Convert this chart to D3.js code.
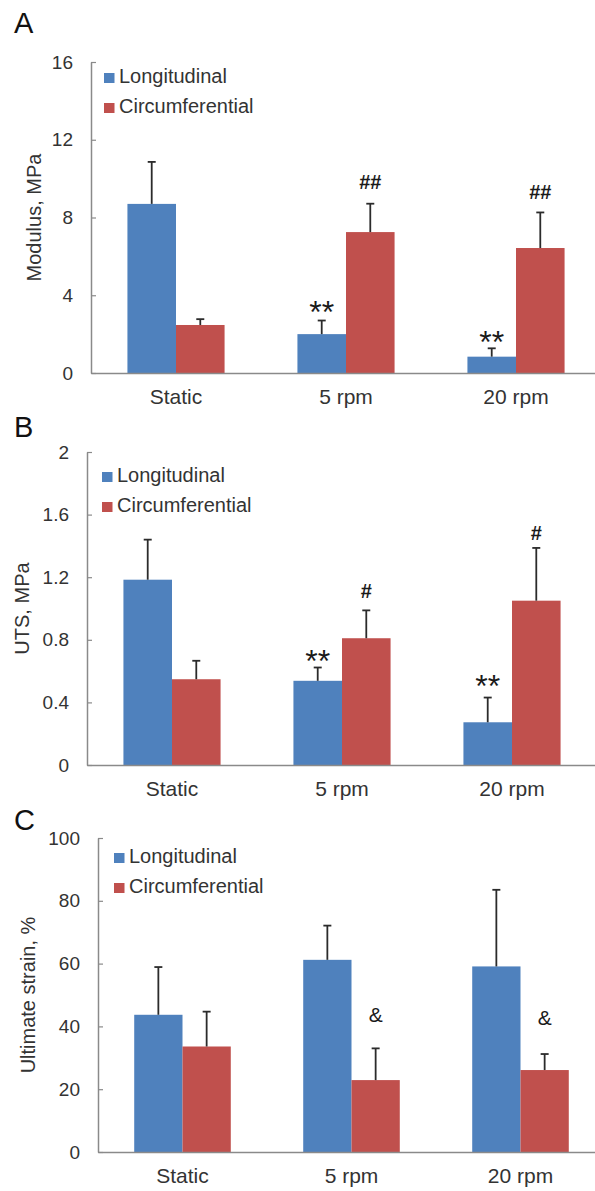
<!DOCTYPE html>
<html>
<head>
<meta charset="utf-8">
<script src="https://cdn.jsdelivr.net/npm/d3@7/dist/d3.min.js"></script>
<style>
  html, body { margin: 0; padding: 0; background: #fff; }
  svg { display: block; font-family: "Liberation Sans", Arial, sans-serif; }
</style>
</head>
<body>
<svg id="chart" width="595" height="1191"></svg>
<script>
// ---------------- DATA ----------------
const categories = ["Static", "5 rpm", "20 rpm"];
const seriesNames = ["Longitudinal", "Circumferential"];

// Panel A: Modulus, MPa
const modulusLong    = [8.7, 2.0, 0.84];
const modulusLongErr = [2.16, 0.70, 0.43];
const modulusCirc    = [2.47, 7.25, 6.43];
const modulusCircErr = [0.30, 1.46, 1.83];
const modulusTicks   = [0, 4, 8, 12, 16];
const modulusMarks   = [
  { cat: "5 rpm",  series: 0, text: "**", at: 3.5 },
  { cat: "5 rpm",  series: 1, text: "##", at: 9.85 },
  { cat: "20 rpm", series: 0, text: "**", at: 1.96 },
  { cat: "20 rpm", series: 1, text: "##", at: 9.33 }
];

// Panel B: UTS, MPa
const utsLong    = [1.184, 0.538, 0.273];
const utsLongErr = [0.256, 0.085, 0.158];
const utsCirc    = [0.548, 0.81, 1.05];
const utsCircErr = [0.118, 0.178, 0.337];
const utsTicks   = [0, 0.4, 0.8, 1.2, 1.6, 2];
const utsMarks   = [
  { cat: "5 rpm",  series: 0, text: "**", at: 0.71 },
  { cat: "5 rpm",  series: 1, text: "#",  at: 1.114 },
  { cat: "20 rpm", series: 0, text: "**", at: 0.55 },
  { cat: "20 rpm", series: 1, text: "#",  at: 1.485 }
];

// Panel C: Ultimate strain, %
const strainLong    = [43.7, 61.2, 59.1];
const strainLongErr = [15.2, 10.9, 24.4];
const strainCirc    = [33.6, 22.9, 26.1];
const strainCircErr = [11.1, 10.1, 5.1];
const strainTicks   = [0, 20, 40, 60, 80, 100];
const strainMarks   = [
  { cat: "5 rpm",  series: 1, text: "&", at: 43.7 },
  { cat: "20 rpm", series: 1, text: "&", at: 42.7 }
];

// ---------------- LAYOUT ----------------
const colors = ["#4F81BD", "#C0504D"];
const svg = d3.select("#chart");

const panels = [
  { letter: "A", lx: 14, ly: 33, title: "Modulus, MPa", tx: 34, ticks: modulusTicks,
    x0: 91, bw: 170, yTop: 62, yBot: 373,
    long: modulusLong, longErr: modulusLongErr, circ: modulusCirc, circErr: modulusCircErr,
    marks: modulusMarks, legX: 104, legY: 73 },
  { letter: "B", lx: 14, ly: 437, title: "UTS, MPa", tx: 22, ticks: utsTicks,
    x0: 87, bw: 170, yTop: 452, yBot: 765,
    long: utsLong, longErr: utsLongErr, circ: utsCirc, circErr: utsCircErr,
    marks: utsMarks, legX: 102, legY: 472 },
  { letter: "C", lx: 14, ly: 830, title: "Ultimate strain, %", tx: 28, ticks: strainTicks,
    x0: 98, bw: 169, yTop: 838, yBot: 1152,
    long: strainLong, longErr: strainLongErr, circ: strainCirc, circErr: strainCircErr,
    marks: strainMarks, legX: 114, legY: 853 }
];

const axisColor = "#8a8a8a";
const textColor = "#333";

panels.forEach(p => {
  const g = svg.append("g");
  const yMax = p.ticks[p.ticks.length - 1];
  const y = d3.scaleLinear().domain([0, yMax]).range([p.yBot, p.yTop]);
  const x = d3.scaleBand().domain(categories).range([p.x0, p.x0 + 3 * p.bw]).paddingInner(0).paddingOuter(0);
  const barW = p.bw / 3.5;
  const sub = d3.scaleBand().domain([0, 1]).range([x.bandwidth() / 2 - barW, x.bandwidth() / 2 + barW]);

  // bars
  const values = [p.long, p.circ];
  const errs = [p.longErr, p.circErr];
  values.forEach((vals, s) => {
    g.selectAll(null).data(categories).enter().append("rect")
      .attr("x", c => x(c) + sub(s))
      .attr("y", (c, i) => y(vals[i]))
      .attr("width", sub.bandwidth())
      .attr("height", (c, i) => y(0) - y(vals[i]))
      .attr("fill", colors[s]);
  });
  // error bars (upper only)
  values.forEach((vals, s) => {
    categories.forEach((c, i) => {
      const cx = x(c) + sub(s) + sub.bandwidth() / 2;
      const top = y(vals[i] + errs[s][i]);
      g.append("line").attr("x1", cx).attr("x2", cx).attr("y1", y(vals[i])).attr("y2", top)
        .attr("stroke", "#2b2b2b").attr("stroke-width", 1.8);
      g.append("line").attr("x1", cx - 4).attr("x2", cx + 4).attr("y1", top).attr("y2", top)
        .attr("stroke", "#2b2b2b").attr("stroke-width", 1.8);
    });
  });

  // y axis
  const yAxis = d3.axisLeft(y).tickValues(p.ticks).tickSizeInner(-5).tickSizeOuter(0)
    .tickPadding(18).tickFormat(d => String(d));
  const ya = g.append("g").attr("transform", `translate(${p.x0},0)`).call(yAxis);
  ya.select(".domain").attr("stroke", axisColor).attr("stroke-width", 1.5);
  ya.selectAll(".tick line").attr("stroke", axisColor).attr("stroke-width", 1.2);
  ya.selectAll(".tick text").attr("fill", textColor).style("font-size", "19px")
    .style("font-family", "'Liberation Sans', Arial, sans-serif");

  // x axis
  const xAxis = d3.axisBottom(x).tickSize(0).tickSizeOuter(0).tickPadding(16);
  const xa = g.append("g").attr("transform", `translate(0,${p.yBot})`).call(xAxis);
  xa.select(".domain").attr("stroke", axisColor).attr("stroke-width", 1.5);
  xa.selectAll(".tick text").attr("fill", textColor).style("font-size", "21px")
    .style("font-family", "'Liberation Sans', Arial, sans-serif");

  // y title
  g.append("text")
    .attr("transform", `translate(${p.tx},${(p.yTop + p.yBot) / 2 + 62 * 0 - (p.yBot - p.yTop) * 0.0}) rotate(-90)`)
    .attr("text-anchor", "middle").attr("dy", "0.35em")
    .attr("fill", textColor).style("font-size", "20px").text(p.title);

  // panel letter
  g.append("text").attr("x", p.lx).attr("y", p.ly).attr("fill", "#111")
    .style("font-size", "29px").text(p.letter);

  // legend
  seriesNames.forEach((name, s) => {
    g.append("rect").attr("x", p.legX).attr("y", p.legY + s * 30).attr("width", 10.5).attr("height", 10)
      .attr("fill", colors[s]);
    g.append("text").attr("x", p.legX + 15).attr("y", p.legY + 10 + s * 30)
      .attr("fill", textColor).style("font-size", "20px").text(name);
  });

  // significance marks
  p.marks.forEach(m => {
    const cx = x(m.cat) + sub(m.series) + sub.bandwidth() / 2;
    const cy = y(m.at);
    let size, shift, weight = "normal";
    if (m.text.startsWith("*")) { size = 32; shift = 18; }
    else if (m.text.startsWith("#")) { size = 20; shift = 7; weight = "bold"; }
    else { size = 21; shift = 7.5; }
    g.append("text").attr("x", cx).attr("y", cy + shift).attr("text-anchor", "middle")
      .attr("fill", "#1a1a1a").style("font-size", size + "px").style("font-weight", weight)
      .text(m.text);
  });
});
</script>
</body>
</html>
